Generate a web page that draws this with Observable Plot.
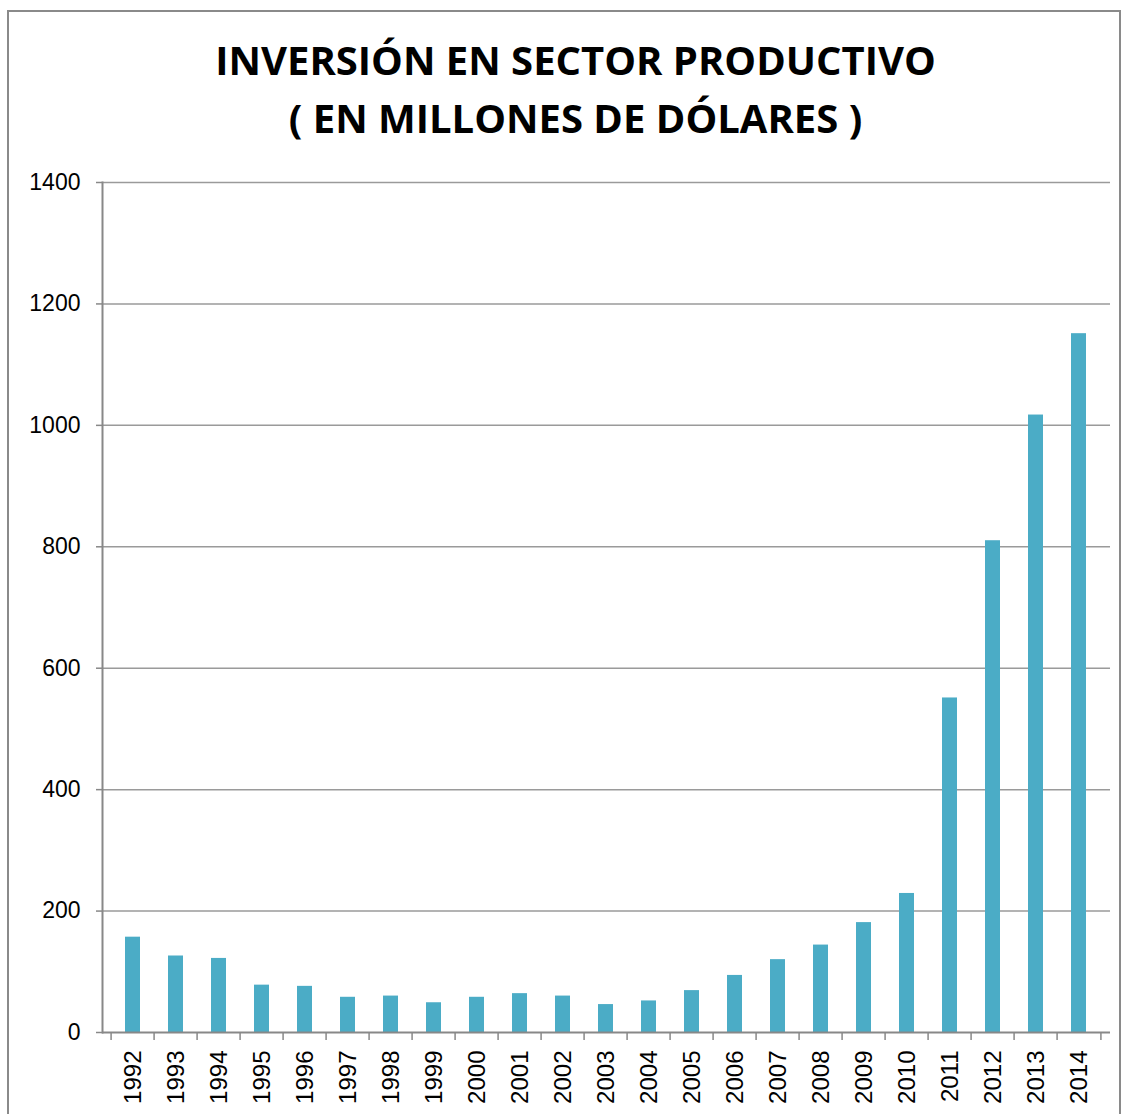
<!DOCTYPE html>
<html>
<head>
<meta charset="utf-8">
<script src="https://cdn.jsdelivr.net/npm/d3@7"></script>
<script src="https://cdn.jsdelivr.net/npm/@observablehq/plot@0.6"></script>
<style>
  body { margin: 0; background: #fff; }
  #wrap { position: relative; width: 1125px; height: 1114px; overflow: hidden; background: #fff; }
  #border { position: absolute; left: 7px; top: 10px; width: 1114px; height: 1120px; border: 2px solid #8a8a8a; box-sizing: border-box; pointer-events: none; }
  #title { height: 165px; box-sizing: border-box; padding-top: 31px; padding-left: 26px; text-align: center;
           font-family: "Open Sans", sans-serif; font-weight: 700; font-size: 40px; line-height: 58px; color: #000; }
  #title div { white-space: nowrap; }
</style>
</head>
<body>
<div id="wrap">
  <div id="title"><div>INVERSIÓN EN SECTOR PRODUCTIVO</div><div>( EN MILLONES DE DÓLARES )</div></div>
  <div id="chart"></div>
  <div id="border"></div>
</div>
<script>
const years = ["1992","1993","1994","1995","1996","1997","1998","1999","2000","2001","2002","2003",
               "2004","2005","2006","2007","2008","2009","2010","2011","2012","2013","2014"];
const values = [157, 126, 122, 78, 76, 58, 60, 49, 58, 64, 60, 46,
                52, 69, 94, 120, 144, 181, 229, 551, 810, 1017, 1151];
const yTicks = [0, 200, 400, 600, 800, 1000, 1200, 1400];

const data = years.map((year, i) => ({year, value: values[i]}));

const W = 1125, H = 949, ML = 102, MR = 15, MT = 17, MB = 82;
const step = (W - ML - MR) / years.length;

const chart = Plot.plot({
  width: W, height: H,
  marginLeft: ML, marginRight: MR, marginTop: MT, marginBottom: MB,
  style: { fontFamily: "'Liberation Sans', Arial, sans-serif", fontSize: "24px", color: "#000", background: "transparent" },
  x: { domain: years, paddingInner: 0.64, paddingOuter: 0.32, label: null },
  y: { domain: [0, 1400], label: null },
  marks: [
    Plot.ruleY(yTicks.filter(d => d > 0), { stroke: "#9a9a9a", strokeWidth: 1.5 }),
    Plot.barY(data, { x: "year", y: "value", fill: "#4bacc6" }),
    Plot.ruleY([0], { stroke: "#888", strokeWidth: 2 }),
    Plot.frame({ anchor: "left", stroke: "#888", strokeWidth: 2 }),
    Plot.axisY({ ticks: yTicks, tickFormat: "d", tickSize: 6, tickPadding: 16, stroke: "#888", strokeWidth: 1.5, fill: "#000", fontSize: 23, label: null }),
    Plot.axisX({ tickSize: 0, tickRotate: -90, tickPadding: 18, fill: "#000", fontSize: 24, label: null }),
    Plot.axisX({ tickSize: 8, tickFormat: () => "", dx: -step / 2, stroke: "#888", strokeWidth: 1.5, label: null }),
    Plot.axisX({ ticks: [years[years.length - 1]], tickSize: 8, tickFormat: () => "", dx: step / 2, stroke: "#888", strokeWidth: 1.5, label: null })
  ]
});
document.getElementById("chart").appendChild(chart);
</script>
</body>
</html>
